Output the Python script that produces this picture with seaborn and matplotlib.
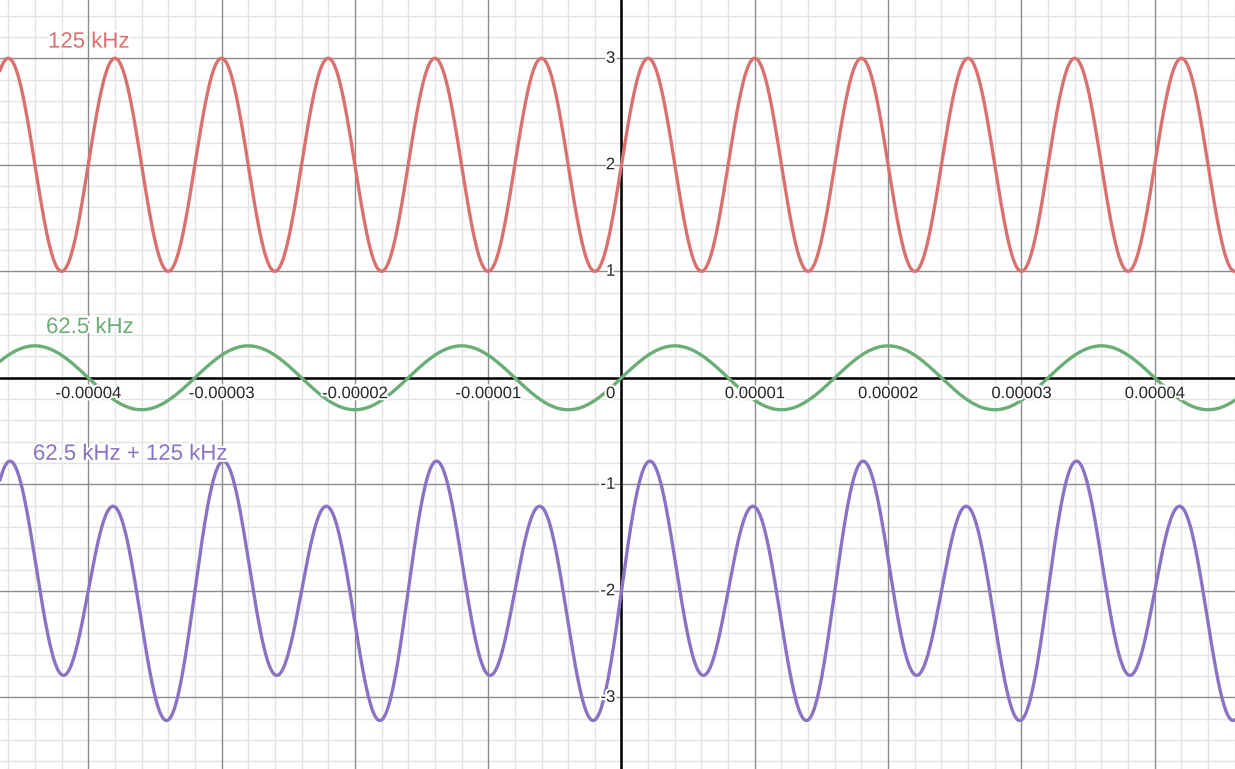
import numpy as np
import pandas as pd
import matplotlib
matplotlib.use("Agg")
import matplotlib.pyplot as plt
import matplotlib.patheffects as pe
import seaborn as sns

# signal parameters
labels = ["125 kHz", "62.5 kHz", "62.5 kHz + 125 kHz"]
colors = ["#d8716f", "#6aad77", "#8b73c3"]
freq_125 = 125e3
freq_62 = 62.5e3
amp_125 = 1.0
amp_62 = 0.3
offsets = [2.0, 0.0, -2.0]

x_ticks = [-0.00004, -0.00003, -0.00002, -0.00001, 0, 0.00001, 0.00002, 0.00003, 0.00004]
x_tick_labels = ["-0.00004", "-0.00003", "-0.00002", "-0.00001", "0",
                 "0.00001", "0.00002", "0.00003", "0.00004"]
y_ticks = [-3, -2, -1, 1, 2, 3]
y_tick_labels = ["-3", "-2", "-1", "1", "2", "3"]

xmin, xmax = -4.662e-5, 4.602e-5
ymin, ymax = -3.673, 3.547

t = np.linspace(xmin, xmax, 3000)
s125 = amp_125 * np.sin(2 * np.pi * freq_125 * t)
s62 = amp_62 * np.sin(2 * np.pi * freq_62 * t)
curves = [offsets[0] + s125, offsets[1] + s62, offsets[2] + s125 + s62]

df = pd.concat([pd.DataFrame({"t": t, "y": c, "name": n}) for c, n in zip(curves, labels)])

sns.set_style("white")
plt.rcParams['font.family'] = ['Liberation Sans', 'DejaVu Sans']

fig = plt.figure(figsize=(12.35, 7.69), dpi=100)
ax = fig.add_axes([0, 0, 1, 1])

# grid
for v in np.arange(-25, 25) * 2e-6:
    if abs(round(v / 1e-5) * 1e-5 - v) < 1e-9:
        ax.axvline(v, color="#8c8c8c", lw=1.0, zorder=0.5)
    else:
        ax.axvline(v, color="#e3e3e3", lw=1.0, zorder=0.4)
for v in np.arange(-20, 20) * 0.2:
    if abs(round(v) - v) < 1e-6:
        ax.axhline(v, color="#8c8c8c", lw=1.0, zorder=0.5)
    else:
        ax.axhline(v, color="#e3e3e3", lw=1.0, zorder=0.4)
ax.axhline(0, color="black", lw=1.8, zorder=1)
ax.axvline(0, color="black", lw=1.8, zorder=1)

sns.lineplot(data=df, x="t", y="y", hue="name", palette=dict(zip(labels, colors)),
             lw=2.4, sort=False, estimator=None, legend=False, ax=ax, zorder=3)

ax.set_xlim(xmin, xmax)
ax.set_ylim(ymin, ymax)
ax.set_xticks([])
ax.set_yticks([])
ax.set_xlabel("")
ax.set_ylabel("")
for sp in ax.spines.values():
    sp.set_visible(False)

halo = [pe.withStroke(linewidth=3, foreground="white")]
for xv, lab in zip(x_ticks, x_tick_labels):
    if xv == 0:
        ax.annotate(lab, (0, 0), xytext=(-4.5, -6), textcoords="offset points",
                    ha="right", va="top", fontsize=12, path_effects=halo, zorder=4)
    else:
        ax.annotate(lab, (xv, 0), xytext=(0, -6), textcoords="offset points",
                    ha="center", va="top", fontsize=12, path_effects=halo, zorder=4)
for yv, lab in zip(y_ticks, y_tick_labels):
    ax.annotate(lab, (0, yv), xytext=(-4.5, 0), textcoords="offset points",
                ha="right", va="center", fontsize=12, path_effects=halo, zorder=4)

label_pos = [(-4.302e-5, 3.10), (-4.317e-5, 0.42), (-4.415e-5, -0.77)]
for (lx, ly), lab, c in zip(label_pos, labels, colors):
    ax.text(lx, ly, lab, color=c, fontsize=16, va="baseline", ha="left",
            path_effects=halo, zorder=5)

fig.savefig("out.png", dpi=100)
